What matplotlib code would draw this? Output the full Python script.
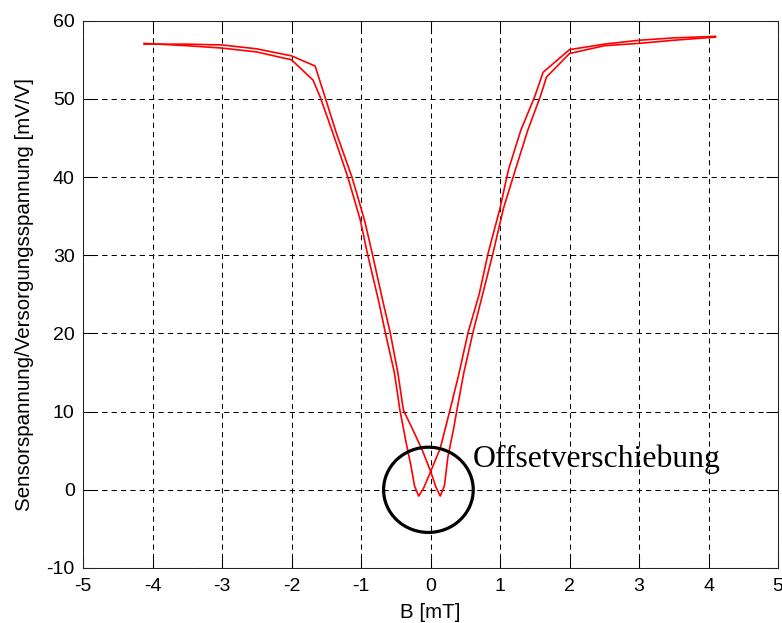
import matplotlib
matplotlib.use("Agg")
import matplotlib.pyplot as plt
from matplotlib.patches import Ellipse

# Branch with minimum on the left (x ~ -0.17)
b_left_x = [-4.12, -3.5, -3.0, -2.5, -2.0, -1.69, -1.59, -1.40, -1.19, -1.01, -0.91, -0.74,
            -0.65, -0.52, -0.44, -0.35, -0.28, -0.23, -0.17, -0.10, 0.00, 0.14, 0.28,
            0.40, 0.54, 0.70, 0.83, 1.00, 1.12, 1.30, 1.50, 1.62, 2.00, 2.50, 3.00, 3.50, 4.10]
b_left_y = [57.1, 56.8, 56.5, 56.0, 55.0, 52.4, 50.3, 45.5, 40.0, 34.5, 30.3, 23.9,
            20.1, 15.0, 10.2, 6.0, 3.0, 0.5, -0.8, 0.2, 2.3, 5.3, 10.2,
            14.5, 20.1, 25.0, 30.3, 36.0, 40.9, 46.0, 50.3, 53.4, 56.3, 57.0, 57.5, 57.8, 58.0]

# Branch with minimum on the right (x ~ +0.14)
b_right_x = [-4.12, -3.5, -3.0, -2.5, -2.0, -1.66, -1.52, -1.35, -1.13, -0.95, -0.84, -0.68,
             -0.58, -0.47, -0.39, -0.25, -0.12, 0.00, 0.08, 0.14, 0.20, 0.25, 0.33, 0.38,
             0.48, 0.61, 0.75, 0.90, 1.05, 1.22, 1.40, 1.58, 1.67, 2.00, 2.50, 3.00, 3.50, 4.10]
b_right_y = [57.0, 57.0, 56.9, 56.4, 55.5, 54.2, 50.3, 45.5, 40.0, 34.5, 30.3, 23.9,
             20.1, 15.0, 10.2, 7.6, 5.1, 2.4, 0.3, -0.8, 0.5, 4.2, 7.7, 10.2,
             15.0, 20.1, 25.0, 30.3, 36.0, 40.9, 46.0, 50.3, 52.8, 55.8, 56.8, 57.1, 57.5, 57.9]

x_ticks = [-5, -4, -3, -2, -1, 0, 1, 2, 3, 4, 5]
y_ticks = [-10, 0, 10, 20, 30, 40, 50, 60]
x_label = "B [mT]"
y_label = "Sensorspannung/Versorgungsspannung [mV/V]"
note_text = "Offsetverschiebung"
note_pos = (0.61, 2.93)
circle_center = (-0.03, 0.0)
circle_size = (1.29, 10.9)

fig = plt.figure(figsize=(7.82, 6.23), dpi=100)
ax = fig.add_axes([83/782, 1 - 568/623, (778-83)/782, (568-20.7)/623])

ax.plot(b_left_x, b_left_y, color="red", lw=1.2)
ax.plot(b_right_x, b_right_y, color="red", lw=1.2)

ax.set_xlim(-5, 5)
ax.set_ylim(-10, 60)
ax.set_xticks(x_ticks)
ax.set_yticks(y_ticks)
ax.set_xticklabels([str(t) for t in x_ticks])
ax.set_yticklabels([str(t) for t in y_ticks])

ax.grid(True, color="black", linestyle=(0, (5, 4)), linewidth=0.75)
ax.tick_params(direction="in", length=8.5, width=0.75, top=True, right=True,
               labelsize=14, colors="black")
ax.tick_params(axis="x", pad=7)
ax.tick_params(axis="y", pad=6)
for s in ax.spines.values():
    s.set_linewidth(0.75)
    s.set_color("#222222")
for lab in ax.get_xticklabels() + ax.get_yticklabels():
    lab.set_fontfamily("Liberation Sans")

ax.set_xlabel(x_label, fontsize=14.8, family="Liberation Sans", labelpad=6)
ax.set_ylabel(y_label, fontsize=14.8, family="Liberation Sans", labelpad=9)

ell = Ellipse(circle_center, circle_size[0], circle_size[1], fill=False,
              edgecolor="black", lw=2.3, zorder=5)
ax.add_patch(ell)
ax.text(note_pos[0], note_pos[1], note_text, family="Liberation Serif",
        fontsize=22.9, va="baseline", ha="left", zorder=6)

fig.savefig("out.png", dpi=100, facecolor="white")
